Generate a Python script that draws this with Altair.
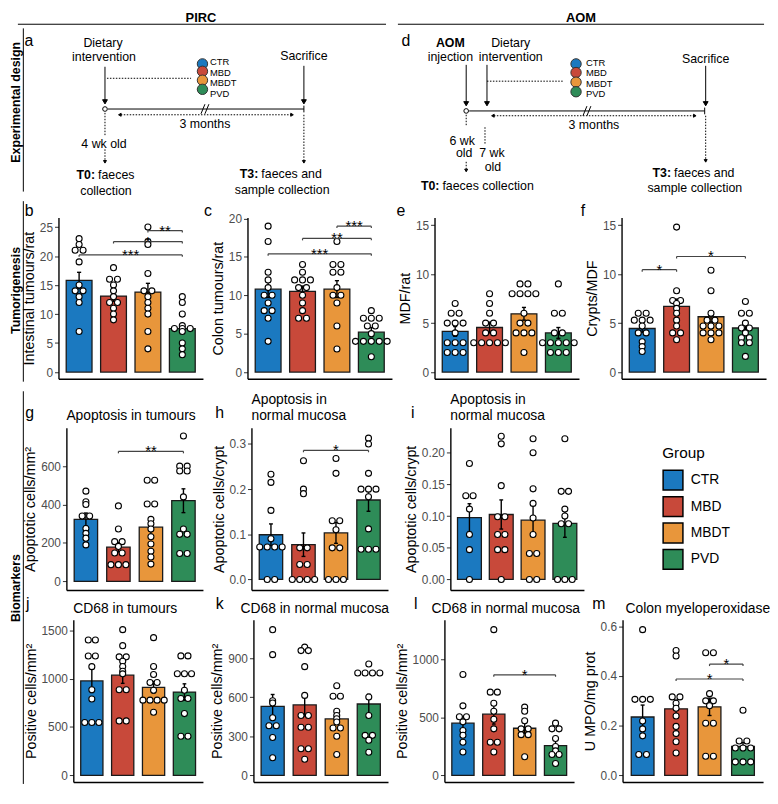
import altair as alt
import pandas as pd

FONT = "Liberation Sans"
W, H = 770, 780
SY = H / 804.0

GROUPS = ["CTR", "MBD", "MBDT", "PVD"]
COLORS = ["#1B79C0", "#C8493A", "#E8963B", "#2E8C58"]

# ---------------- data ----------------
B_MEAN = [15.8, 13.1, 13.8, 7.5]
B_SE = [1.4, 0.9, 1.5, 0.7]
B_PTS = [[23, 22, 21, 21, 19, 15, 14, 14, 13, 12, 7],
         [18, 16, 16, 15, 14, 13, 12, 12, 11, 10, 9],
         [25, 22.5, 22, 17, 14, 14, 13, 12, 11, 10, 7, 4],
         [13, 12, 10, 8, 7.5, 7.5, 7.5, 7, 5, 4, 3]]
B_SIG = [(1, 4, 20.2, "***"), (2, 4, 22.5, "*"), (3, 4, 24.4, "**")]

C_MEAN = [10.8, 10.5, 10.8, 5.2]
C_SE = [1.1, 0.7, 1.1, 0.6]
C_PTS = [[19, 17, 13, 12, 11, 10, 10, 9, 8, 8, 7, 4],
         [14, 13, 12, 12, 12, 11, 11, 10, 9, 8, 7, 7],
         [17, 14, 14, 13, 13, 11, 10, 10, 9, 6, 3],
         [8, 7, 7, 7, 6, 6, 5, 4, 4, 4, 4, 4, 2]]
C_SIG = [(1, 4, 15.4, "***"), (2, 4, 17.4, "**"), (3, 4, 19.0, "***")]

E_MEAN = [4.15, 4.55, 5.95, 4.0]
E_SE = [0.5, 0.55, 0.65, 0.55]
E_PTS = [[7, 6, 6, 5, 5, 5, 4, 3, 3, 3, 2, 2, 2],
         [8, 7, 6, 5, 5, 4, 4, 3, 3, 3, 3, 3],
         [9, 9, 8, 8, 8, 8, 6, 5, 5, 4, 4, 4, 2],
         [9, 6, 6, 4, 4, 3, 3, 3, 3, 3, 2, 2, 2]]
E_SIG = []

F_MEAN = [4.45, 6.7, 5.65, 4.5]
F_SE = [0.4, 0.75, 0.55, 0.4]
F_PTS = [[6, 6, 5.3, 5.3, 5.3, 4.7, 4, 4, 3.1, 2.6, 2.1],
         [14.8, 8.3, 7.3, 7.3, 7, 6.5, 6, 5.3, 4.7, 4, 4, 3.3],
         [10.4, 8.3, 6, 5.3, 5.3, 4.7, 4.7, 4.7, 4, 4, 4, 3.3],
         [7.2, 6, 6, 5, 4.5, 4.5, 4, 3.5, 3.5, 3, 3, 1.6]]
F_SIG = [(1, 2, 10.45, "*"), (2, 4, 11.8, "*")]

G_MEAN = [323, 178, 282, 420]
G_SE = [33, 25, 38, 62]
G_PTS = [[470, 415, 400, 340, 340, 275, 250, 225, 190],
         [393, 273, 207, 207, 182, 148, 148, 87, 87, 87],
         [527, 527, 403, 403, 323, 300, 273, 232, 195, 157, 127, 90],
         [757, 600, 600, 575, 575, 440, 273, 245, 245, 145, 145]]
G_SIG = [(2, 4, 677, "**")]

H_MEAN = [0.099, 0.077, 0.103, 0.176]
H_SE = [0.024, 0.026, 0.023, 0.025]
H_PTS = [[0.233, 0.215, 0.153, 0.09, 0.072, 0.072, 0.072, 0.072, 0, 0],
         [0.263, 0.2, 0.19, 0.07, 0.07, 0.033, 0.033, 0, 0, 0, 0],
         [0.268, 0.235, 0.13, 0.13, 0.11, 0.07, 0.07, 0, 0, 0],
         [0.313, 0.3, 0.235, 0.2, 0.2, 0.2, 0.183, 0.112, 0.067, 0.067, 0.067]]
H_SIG = [(2, 4, 0.286, "*")]

I_MEAN = [0.0975, 0.1025, 0.0935, 0.0885]
I_SE = [0.022, 0.023, 0.024, 0.022]
I_PTS = [[0.183, 0.132, 0.132, 0.111, 0.071, 0.047, 0],
         [0.226, 0.214, 0.148, 0.099, 0.099, 0.071, 0.071, 0.047, 0.047, 0],
         [0.222, 0.2, 0.143, 0.12, 0.097, 0.071, 0.041, 0.041, 0, 0],
         [0.222, 0.139, 0.139, 0.111, 0.1, 0.088, 0.088, 0, 0, 0]]
I_SIG = []

J_MEAN = [977, 1037, 911, 862]
J_SE = [120, 85, 60, 85]
J_PTS = [[1400, 1400, 1235, 1235, 1125, 885, 790, 547, 547, 547],
         [1508, 1342, 1226, 1226, 1180, 1126, 1077, 1050, 885, 885, 563, 563],
         [1425, 1126, 1044, 961, 961, 880, 778, 778, 778, 778, 653],
         [1236, 1236, 1051, 1051, 1051, 880, 795, 795, 639, 404, 404]]
J_SIG = []

K_MEAN = [529, 541, 433, 548]
K_SE = [92, 85, 40, 75]
K_PTS = [[1119, 927, 573, 555, 442, 381, 381, 290, 135],
         [985, 958, 958, 835, 614, 460, 460, 369, 369, 204, 204, 123],
         [688, 607, 607, 492, 460, 434, 410, 364, 364, 300, 160],
         [855, 786, 786, 786, 786, 602, 460, 307, 307, 270, 177]]
K_SIG = []

L_MEAN = [449, 526, 405, 256]
L_SE = [55, 85, 45, 55]
L_PTS = [[868, 598, 504, 504, 460, 386, 345, 284, 201],
         [1254, 716, 716, 620, 551, 482, 400, 284, 284, 201],
         [587, 551, 469, 400, 400, 350, 350, 160],
         [449, 400, 400, 317, 248, 210, 179, 179, 102]]
L_SIG = [(2, 4, 865, "*")]

M_MEAN = [0.235, 0.268, 0.276, 0.116]
M_SE = [0.048, 0.035, 0.035, 0.016]
M_PTS = [[0.587, 0.306, 0.306, 0.306, 0.219, 0.187, 0.159, 0.084, 0.084],
         [0.503, 0.481, 0.316, 0.316, 0.29, 0.27, 0.239, 0.197, 0.168, 0.135, 0.09],
         [0.494, 0.494, 0.329, 0.3, 0.3, 0.28, 0.21, 0.21, 0.077, 0.077],
         [0.262, 0.138, 0.138, 0.11, 0.11, 0.11, 0.054, 0.054, 0.054]]
M_SIG = [(2, 4, 0.388, "*"), (3, 4, 0.448, "*")]

# ---------------- figure annotations (figure pixel coordinates) ----------------
HEADERS = [("PIRC", 203, 6), ("AOM", 587, 6)]
SIDE_LABELS = [("Experimental design", 16.2, 94), ("Tumorigenesis", 16.2, 290), ("Biomarkers", 16.2, 600)]
LETTERS = [("a", 29, 30), ("d", 410, 30), ("b", 29.5, 207), ("c", 210, 207), ("e", 405, 207),
           ("f", 589, 207), ("g", 30, 418), ("h", 222, 418), ("i", 417, 418), ("j", 28, 617),
           ("k", 222, 617), ("l", 420, 617), ("m", 605, 617)]
TITLES = [("Apoptosis in tumours", 67, 421), ("Apoptosis in", 254, 404), ("normal mucosa", 254, 421),
          ("Apoptosis in", 455, 404), ("normal mucosa", 455, 421), ("CD68 in tumours", 74, 622),
          ("CD68 in normal mucosa", 243, 622), ("CD68 in normal mucosa", 436, 622),
          ("Colon myeloperoxidase", 632, 622)]
DIAG_TEXT = [("Dietary", 104, 32), ("intervention", 105, 47), ("Sacrifice", 307, 46), ("3 months", 207, 117),
             ("4 wk old", 105, 137), ("collection", 107, 186), ("sample collection", 285, 185),
             ("injection", 455, 47), ("Dietary", 516, 32), ("intervention", 516, 47), ("Sacrifice", 713, 49),
             ("3 months", 600, 118), ("6 wk", 467, 134), ("old", 469, 147), ("7 wk", 497, 147),
             ("old", 498, 161), ("sample collection", 702, 183)]
DIAG_BOLD = [("AOM", 455, 32)]
DIAG_BOLD_R = [("T0:", 96, 170), ("T3:", 261, 169), ("T0:", 444, 181), ("T3:", 678, 168)]
DIAG_TEXT_L = [("faeces", 99, 170), ("faeces and", 264, 169), ("faeces collection", 447, 181),
               ("faeces and", 681, 168)]
DOT_LABELS = [("CTR", 212, 52.5), ("MBD", 212, 63.4), ("MBDT", 212, 74.3), ("PVD", 212, 85.2),
              ("CTR", 592, 52.8), ("MBD", 592, 63.7), ("MBDT", 592, 74.6), ("PVD", 592, 85.5)]
DOTS = [(204.5, 54, 0), (204.5, 61.7, 1), (204.5, 71, 2), (204.5, 80.5, 3),
        (582, 54, 0), (582, 63, 1), (582, 73, 2), (582, 83, 3)]
SOLID = [(18, 12.7, 390, 12.7), (402, 12.7, 772, 12.7),
         (23.5, 17, 23.5, 187), (23.5, 197, 23.5, 385), (23.5, 395, 23.5, 804),
         (106, 57, 106, 92), (307, 56, 307, 92), (109, 101, 307, 101), (307, 97.5, 307, 104.5),
         (203, 106, 207, 96), (207, 106, 211, 96),
         (471, 55, 471, 94), (492, 55, 492, 94), (713, 56, 713, 94), (474, 103, 712, 103),
         (712, 99.5, 712, 106.5), (589, 108, 593, 98), (593, 108, 597, 98)]
DOTTED = [(108, 69, 193, 69), (122, 107, 294, 107), (106, 105, 106, 129), (106, 143, 106, 155),
          (307, 107, 307, 155), (492, 72, 570, 72), (499, 108, 701, 108), (471, 107, 471, 118),
          (490, 120, 490, 137), (471, 156, 471, 164), (713, 108, 713, 154)]
HEAD_DOWN = [(106, 93.5), (307, 93.5), (471, 95.5), (492, 95.5), (713, 95.5)]
HEAD_DOWN_SMALL = [(106, 156), (307, 156), (471, 165), (713, 155)]
HEAD_LEFT = [(121, 107), (498, 108)]
HEAD_RIGHT = [(295, 107), (702, 108)]
OPEN_CIRCLES = [(106, 101), (471, 103)]

AX = alt.Scale(domain=[0, 778], range=[-8, W], nice=False, zero=False)
AY = alt.Scale(domain=[0, 804], range=[0, H], nice=False, zero=False)


def sx(v):
    return v - 8.0


def sy(v):
    return v * SY


layers = []

LEGEND = alt.Legend(orient="none", legendX=sx(669), legendY=sy(452), title="Group",
                    titleFont=FONT, titleFontSize=15.5, titleFontWeight="normal", titleColor="black",
                    titlePadding=8, labelFont=FONT, labelFontSize=14, labelColor="black",
                    labelOffset=7, symbolType="square", symbolSize=400, symbolStrokeColor="black",
                    symbolStrokeWidth=1.5, rowPadding=0.7)


def swarm(vals, w=0.23):
    cnt = {}
    for v in vals:
        cnt[v] = cnt.get(v, 0) + 1
    seen = {}
    offs = []
    for v in vals:
        k = cnt[v]
        i = seen.get(v, 0)
        seen[v] = i + 1
        offs.append((i - (k - 1) / 2.0) * w)
    return offs


def panel(rect, dom, ticks, fmt, title, means, ses, pts, sigs, bw=0.72):
    x0, x1, yt, yb = rect
    xs = alt.Scale(domain=[0.4, 4.6], range=[sx(x0), sx(x1)], nice=False, zero=False)
    ys = alt.Scale(domain=dom, range=[sy(yb), sy(yt)], nice=False, zero=False)
    yax = alt.Axis(orient="left", offset=-sx(x0), values=ticks, format=fmt, title=title, grid=False,
                   domainColor="black", domainWidth=1.4, tickColor="#333333", tickSize=4, tickWidth=1,
                   labelColor="#4D4D4D", labelFont=FONT, labelFontSize=12, labelPadding=2,
                   labelFlush=False, labelOverlap=False, titleFont=FONT, titleFontSize=14.5,
                   titleFontWeight="normal", titleColor="black", titlePadding=3)
    xax = alt.Axis(orient="bottom", offset=-(H - sy(yb)), labels=False, ticks=False, title=None,
                   grid=False, domainColor="black", domainWidth=1.4)
    idx = [1, 2, 3, 4]
    bars = pd.DataFrame({"grp": GROUPS, "xa": [i - bw / 2 for i in idx], "xb": [i + bw / 2 for i in idx],
                         "m": means, "base": [0] * 4})
    layers.append(alt.Chart(bars).mark_bar(stroke="#1a1a1a", strokeWidth=1.3, opacity=1).encode(
        x=alt.X("xa:Q", scale=xs, axis=xax), x2="xb:Q",
        y=alt.Y("m:Q", scale=ys, axis=yax), y2="base:Q",
        color=alt.Color("grp:N", scale=alt.Scale(domain=GROUPS, range=COLORS), legend=LEGEND)))
    err = pd.DataFrame({"c": idx, "lo": [m - s for m, s in zip(means, ses)],
                        "hi": [m + s for m, s in zip(means, ses)],
                        "ca": [i - 0.06 for i in idx], "cb": [i + 0.06 for i in idx]})
    layers.append(alt.Chart(err).mark_rule(color="black", strokeWidth=1.4).encode(
        x=alt.X("c:Q", scale=xs, axis=None), y=alt.Y("lo:Q", scale=ys, axis=None), y2="hi:Q"))
    for f in ["hi", "lo"]:
        layers.append(alt.Chart(err).mark_rule(color="black", strokeWidth=1.4).encode(
            x=alt.X("ca:Q", scale=xs, axis=None), x2="cb:Q", y=alt.Y(f + ":Q", scale=ys, axis=None)))
    rows = []
    for i, vals in enumerate(pts):
        for v, o in zip(vals, swarm(vals)):
            rows.append({"px": i + 1 + o, "v": v})
    layers.append(alt.Chart(pd.DataFrame(rows)).mark_point(
        shape="circle", filled=True, fill="white", stroke="black", strokeWidth=1.1, size=37, opacity=1
    ).encode(x=alt.X("px:Q", scale=xs, axis=None), y=alt.Y("v:Q", scale=ys, axis=None)))
    if sigs:
        rng = dom[1] - dom[0]
        sdf = pd.DataFrame([{"a": a, "b": b, "h": h, "tip": h - 0.012 * rng, "mid": (a + b) / 2.0, "lab": lab}
                            for a, b, h, lab in sigs])
        layers.append(alt.Chart(sdf).mark_rule(color="#444444", strokeWidth=1.2).encode(
            x=alt.X("a:Q", scale=xs, axis=None), x2="b:Q", y=alt.Y("h:Q", scale=ys, axis=None)))
        for f in ["a", "b"]:
            layers.append(alt.Chart(sdf).mark_rule(color="#444444", strokeWidth=1.2).encode(
                x=alt.X(f + ":Q", scale=xs, axis=None), y=alt.Y("h:Q", scale=ys, axis=None), y2="tip:Q"))
        layers.append(alt.Chart(sdf).mark_text(font=FONT, fontSize=15, baseline="middle", align="center",
                                               color="black", dy=0).encode(
            x=alt.X("mid:Q", scale=xs, axis=None), y=alt.Y("h:Q", scale=ys, axis=None), text="lab:N"))


panel((59, 205, 214, 382), [-1.16, 26.65], [0, 5, 10, 15, 20, 25], "d", "Intestinal tumours/rat",
      B_MEAN, B_SE, B_PTS, B_SIG, bw=0.75)
panel((250, 396, 214, 382), [-0.875, 20.125], [0, 5, 10, 15, 20], "d", "Colon tumours/rat",
      C_MEAN, C_SE, C_PTS, C_SIG, bw=0.75)
panel((439, 585, 214, 382), [-0.686, 15.78], [0, 5, 10, 15], "d", "MDF/rat",
      E_MEAN, E_SE, E_PTS, E_SIG, bw=0.75)
panel((628, 774, 214, 382), [-0.686, 15.78], [0, 5, 10, 15], "d", "Crypts/MDF",
      F_MEAN, F_SE, F_PTS, F_SIG, bw=0.75)
panel((67, 205, 433, 602), [-45, 800], [0, 200, 400, 600], "d", "Apoptotic cells/mm²",
      G_MEAN, G_SE, G_PTS, G_SIG)
panel((254, 392, 433, 602), [-0.0234, 0.336], [0, 0.1, 0.2, 0.3], ".1f", "Apoptotic cells/crypt",
      H_MEAN, H_SE, H_PTS, H_SIG)
panel((455, 590, 433, 602), [-0.0167, 0.2394], [0, 0.05, 0.1, 0.15, 0.2], ".2f", "Apoptotic cells/crypt",
      I_MEAN, I_SE, I_PTS, I_SIG, bw=0.75)
panel((74, 205, 633, 802), [-69.6, 1610], [0, 500, 1000, 1500], "d", "Positive cells/mm²",
      J_MEAN, J_SE, J_PTS, J_SIG)
panel((256, 392, 633, 802), [-51.6, 1195], [0, 300, 600, 900], "d", "Positive cells/mm²",
      K_MEAN, K_SE, K_PTS, K_SIG)
panel((449, 580, 633, 802), [-57.9, 1339], [0, 500, 1000], "d", "Positive cells/mm²",
      L_MEAN, L_SE, L_PTS, L_SIG)
panel((629, 771, 633, 802), [-0.0271, 0.6267], [0, 0.2, 0.4, 0.6], ".1f", "U MPO/mg prot",
      M_MEAN, M_SE, M_PTS, M_SIG, bw=0.68)


def enc_xy():
    return dict(x=alt.X("x:Q", scale=AX, axis=None), y=alt.Y("y:Q", scale=AY, axis=None))


def text_layer(rows, size, weight="normal", align="center", angle=0, baseline="middle"):
    df = pd.DataFrame(rows, columns=["t", "x", "y"])
    kw = dict(font=FONT, fontSize=size, fontWeight=weight, align=align, baseline=baseline, color="black")
    if angle:
        kw["angle"] = angle
    return alt.Chart(df).mark_text(**kw).encode(text="t:N", **enc_xy())


def rule_layer(rows, dash=None):
    df = pd.DataFrame(rows, columns=["x", "y", "x2", "y2"])
    kw = dict(color="black", strokeWidth=1)
    if dash:
        kw["strokeDash"] = dash
    return alt.Chart(df).mark_rule(**kw).encode(x2="x2:Q", y2="y2:Q", **enc_xy())


def shape_layer(rows, shape, size, fill="black", stroke="black"):
    df = pd.DataFrame(rows, columns=["x", "y"])
    return alt.Chart(df).mark_point(shape=shape, size=size, filled=True, fill=fill, stroke=stroke,
                                    strokeWidth=1, opacity=1).encode(**enc_xy())


layers.append(rule_layer(SOLID))
layers.append(rule_layer(DOTTED, dash=[1.5, 1.5]))
layers.append(shape_layer(HEAD_DOWN, "triangle-down", 24))
layers.append(shape_layer(HEAD_DOWN_SMALL, "triangle-down", 9))
layers.append(shape_layer(HEAD_LEFT, "triangle-left", 9))
layers.append(shape_layer(HEAD_RIGHT, "triangle-right", 9))
layers.append(shape_layer(OPEN_CIRCLES, "circle", 22, fill="white"))
dots = pd.DataFrame([{"x": x, "y": y, "c": COLORS[k]} for x, y, k in DOTS])
layers.append(alt.Chart(dots).mark_point(shape="circle", filled=True, size=110, stroke="#333333",
                                         strokeWidth=1, opacity=1).encode(
    fill=alt.Fill("c:N", scale=None), **enc_xy()))
layers.append(text_layer(HEADERS, 13, weight="bold"))
layers.append(text_layer(SIDE_LABELS, 12.5, weight="bold", angle=270))
layers.append(text_layer(LETTERS, 16))
layers.append(text_layer(TITLES, 14, align="left"))
layers.append(text_layer(DIAG_TEXT, 12.5))
layers.append(text_layer(DIAG_BOLD, 12.5, weight="bold"))
layers.append(text_layer(DIAG_BOLD_R, 12.5, weight="bold", align="right"))
layers.append(text_layer(DIAG_TEXT_L, 12.5, align="left"))
layers.append(text_layer(DOT_LABELS, 9.5, align="left"))

chart = alt.layer(*layers).resolve_scale(x="independent", y="independent").properties(
    width=W, height=H, padding=0, autosize=alt.AutoSizeParams(type="none"), background="white"
).configure_view(stroke=None)

chart.save("out.html", embed_options={"renderer": "svg", "actions": False})
